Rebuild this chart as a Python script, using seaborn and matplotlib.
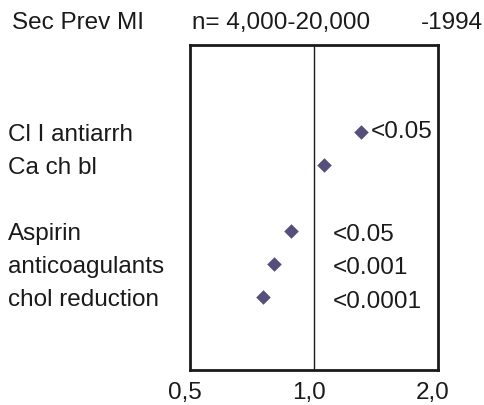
import matplotlib
matplotlib.use("Agg")
import matplotlib.pyplot as plt
import matplotlib.ticker as mticker
import matplotlib.transforms as mtransforms
import seaborn as sns
import pandas as pd

# Secondary prevention after MI: relative risk per treatment (log scale)
treatments = ["Cl I antiarrh", "Ca ch bl", "Aspirin", "anticoagulants", "chol reduction"]
rows = [1, 2, 4, 5, 6]
relative_risk = [1.30, 1.06, 0.88, 0.80, 0.75]
p_values = ["<0.05", "", "<0.05", "<0.001", "<0.0001"]
x_ticks = [0.5, 1.0, 2.0]
x_tick_labels = ["0,5", "1,0", "2,0"]

df = pd.DataFrame({"treatment": treatments, "row": rows, "rr": relative_risk, "p": p_values})

sns.set_theme(style="white")
plt.rcParams["font.family"] = ["Liberation Sans", "DejaVu Sans"]

W, H = 484, 405
FS = 17.5
TXT = "#1a1a1a"
fig = plt.figure(figsize=(W / 100, H / 100), dpi=100)
ax = fig.add_axes([190 / W, 1 - 370 / H, (438 - 190) / W, (370 - 45) / H])

marker_color = "#574F7A"
sns.scatterplot(data=df, x="rr", y="row", marker="D", s=55, color=marker_color,
                edgecolor=marker_color, linewidth=0, ax=ax, zorder=3)

ax.set_xscale("log", base=2)
ax.set_xlim(0.5, 2.0)
ax.set_ylim(8.2, -1.64)
ax.axvline(1.0, color=TXT, lw=1.0, zorder=2)

ax.xaxis.set_major_locator(mticker.FixedLocator(x_ticks))
ax.xaxis.set_minor_locator(mticker.NullLocator())
ax.set_xticklabels(x_tick_labels)
ax.tick_params(axis="x", length=0, pad=9, labelsize=FS, labelcolor=TXT)
shift = mtransforms.ScaledTranslation(-5 / 100, 0, fig.dpi_scale_trans)
for lbl in ax.get_xticklabels():
    lbl.set_transform(lbl.get_transform() + shift)

ax.set_yticks(rows)
ax.set_yticklabels(treatments, ha="left")
ax.tick_params(axis="y", length=0, pad=131, labelsize=FS, labelcolor=TXT)

ax.set_xlabel("")
ax.set_ylabel("")
for sp in ax.spines.values():
    sp.set_visible(True)
    sp.set_color(TXT)
    sp.set_linewidth(2.0)

# p-value annotations: next to the marker when it lies right of 1.0, else in a column
for rr, r, p in zip(relative_risk, rows, p_values):
    if not p:
        continue
    if rr > 1.2:
        ax.annotate(p, (rr, r), xytext=(7, 0), textcoords="offset points",
                    ha="left", va="center", fontsize=FS, color=TXT)
    else:
        ax.annotate(p, (1.11, r), xytext=(0, -3), textcoords="offset points",
                    ha="left", va="center", fontsize=FS, color=TXT)

fig.text(12 / W, 1 - 23 / H, "Sec Prev MI", ha="left", va="center", fontsize=FS, color=TXT)
fig.text(192 / W, 1 - 23 / H, "n= 4,000-20,000", ha="left", va="center", fontsize=FS, color=TXT)
fig.text(483 / W, 1 - 23 / H, "-1994", ha="right", va="center", fontsize=FS, color=TXT)

fig.savefig("out.png", dpi=100, facecolor="white")
